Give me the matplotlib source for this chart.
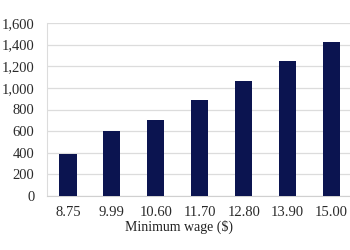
import matplotlib
matplotlib.use("Agg")
import matplotlib.pyplot as plt
from matplotlib.ticker import FuncFormatter

categories = ["8.75", "9.99", "10.60", "11.70", "12.80", "13.90", "15.00"]
values = [390, 600, 705, 890, 1065, 1245, 1420]
yticks = [0, 200, 400, 600, 800, 1000, 1200, 1400, 1600]

plt.rcParams['font.family'] = ['Liberation Serif', 'DejaVu Serif']
fig = plt.figure(figsize=(3.5, 2.5), dpi=100)
ax = fig.add_axes([0.134, 0.216, 0.866, 0.692])
x = list(range(len(categories)))
ax.bar(x, values, width=0.39, color="#0b1450", zorder=3)
ax.set_xticks(x)
ax.set_xticklabels(categories)
ax.set_yticks(yticks)
ax.yaxis.set_major_formatter(FuncFormatter(lambda v, p: f"{int(v):,}"))
ax.set_ylim(0, 1600)
ax.set_xlim(-0.48, 6.42)
ax.grid(axis="y", color="#dcdcdc", linewidth=0.9, zorder=0)
for s in ["top", "right"]:
    ax.spines[s].set_visible(False)
ax.spines["left"].set_color("#dcdcdc")
ax.spines["bottom"].set_color("#d0d0d0")
ax.tick_params(axis="both", length=0, labelsize=10.5, colors="#2a2a2a")
ax.tick_params(axis="x", pad=7)
ax.tick_params(axis="y", pad=9)
ax.set_xlabel("Minimum wage ($)", fontsize=10, color="#222222", labelpad=3)
ax.xaxis.set_label_coords(0.435, -0.14)
fig.savefig("out.png", dpi=100)
